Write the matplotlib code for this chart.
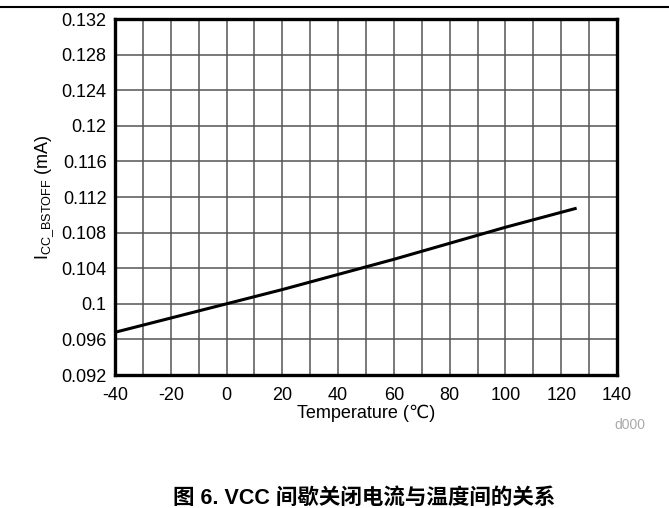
import matplotlib
matplotlib.use('Agg')
import matplotlib.pyplot as plt
import numpy as np

plt.rcParams['font.family'] = ['Liberation Sans', 'DejaVu Sans']
plt.rcParams['mathtext.fontset'] = 'custom'
plt.rcParams['mathtext.rm'] = 'Liberation Sans'
plt.rcParams['axes.unicode_minus'] = False

# supply current vs temperature
temp = [-40, -20, 0, 20, 40, 60, 80, 100, 125]
icc = [0.0968, 0.0984, 0.1000, 0.1016, 0.1033, 0.1050, 0.1068, 0.1086, 0.1107]

x_ticks = [-40, -20, 0, 20, 40, 60, 80, 100, 120, 140]
y_ticks = [0.092, 0.096, 0.1, 0.104, 0.108, 0.112, 0.116, 0.12, 0.124, 0.128, 0.132]
y_labels = ['0.092', '0.096', '0.1', '0.104', '0.108', '0.112', '0.116', '0.12', '0.124', '0.128', '0.132']

fig = plt.figure(figsize=(6.69, 5.08), dpi=100)
ax = fig.add_axes([115 / 669, 1 - 375 / 508, (617 - 115) / 669, (375 - 19) / 508])

ax.plot(temp, icc, color='black', lw=2.2, zorder=3)

ax.set_xlim(-40, 140)
ax.set_ylim(0.092, 0.132)
ax.set_xticks(x_ticks)
ax.set_xticks(np.arange(-30, 140, 20), minor=True)
ax.set_yticks(y_ticks)
ax.set_yticklabels(y_labels)
ax.tick_params(which='both', length=0, labelsize=13)
ax.tick_params(axis='x', pad=9)
ax.tick_params(axis='y', pad=6)
ax.grid(which='both', color='#555555', lw=1.1)
for s in ax.spines.values():
    s.set_linewidth(2.4)
    s.set_zorder(4)

ax.set_xlabel('Temperature (\u2103)', fontsize=13, labelpad=0)
ax.set_ylabel(r'I$_{\mathregular{CC\_BSTOFF}}$ (mA)', fontsize=13, labelpad=4)

# top rule across the page
fig.add_artist(plt.Line2D([0, 1], [1 - 7 / 508, 1 - 7 / 508], color='black', lw=1.5))
fig.text(630 / 669, 1 - 425 / 508, 'd000', color='#aaaaaa', fontsize=10, ha='center', va='center')
fig.text(364 / 669, 1 - 498 / 508, '图 6. VCC 间歇关闭电流与温度间的关系', fontsize=15.5,
         fontweight='bold', ha='center', va='center',
         family=['Liberation Sans', 'Noto Sans CJK SC'])

fig.savefig('out.png', dpi=100)
